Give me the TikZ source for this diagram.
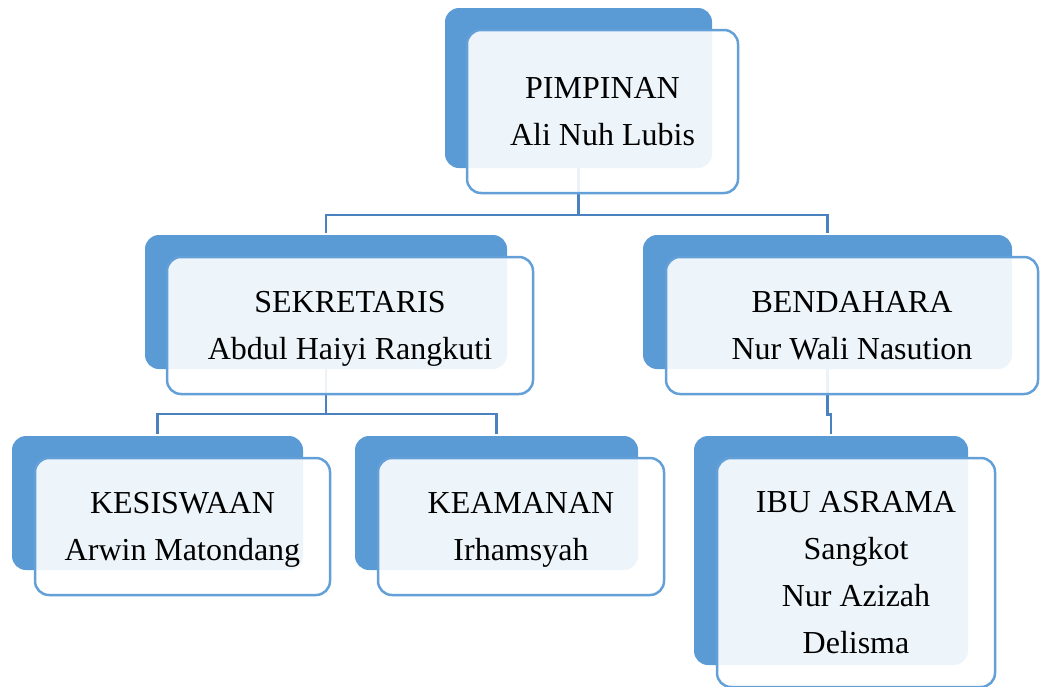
\documentclass[tikz,border=0pt]{standalone}
\usepackage{fontspec}
\setmainfont{Liberation Serif}
\definecolor{boxblue}{HTML}{5B9BD5}
\definecolor{edgeblue}{HTML}{64A0D8}
\definecolor{connblue}{HTML}{4A82C0}
\newcommand{\tstrut}{\rule{0pt}{28.5pt}}
\newcommand{\bstrut}{\rule[-7pt]{0pt}{7pt}}
\begin{document}
\begin{tikzpicture}[x=1pt,y=-1pt,
  backbox/.style={fill=boxblue, draw=none, rounded corners=14pt, inner sep=0pt},
  frontbox/.style={fill=white, fill opacity=0.9, text opacity=1, draw=edgeblue, draw opacity=1,
    line width=2.5pt, rounded corners=14pt, inner sep=0pt, align=center,
    font=\fontsize{32}{47}\selectfont},
  conn/.style={draw=connblue, line width=2.8pt, shorten >=2pt}]
\useasboundingbox (0,0) rectangle (1041,686);
% back boxes
\node[backbox, minimum width=267pt, minimum height=160pt] (pb) at (578.5,88) {};
\node[backbox, minimum width=362pt, minimum height=134pt] (sb) at (326,302) {};
\node[backbox, minimum width=369pt, minimum height=134pt] (bb) at (827.5,302) {};
\node[backbox, minimum width=291pt, minimum height=134pt] (kb) at (157.5,503) {};
\node[backbox, minimum width=283pt, minimum height=134pt] (mb) at (496.5,503) {};
\node[backbox, minimum width=274pt, minimum height=229pt] (ib) at (831,550.5) {};
% connectors
\coordinate (pj) at (578.5,215);
\coordinate (sj) at (326,414);
\draw[conn, shorten >=0pt] (pb.south) -- (pj);
\draw[conn] (pj) -| (sb.north);
\draw[conn] (pj) -| (bb.north);
\draw[conn, shorten >=0pt] (sb.south) -- (sj);
\draw[conn] (sj) -| (kb.north);
\draw[conn] (sj) -| (mb.north);
\draw[conn] (bb.south) -- ++(0,45) -| (ib.north);
% front boxes
\node[frontbox, minimum width=271pt, minimum height=163pt] (pf) at (602.5,111.5) {\tstrut PIMPINAN\\Ali Nuh Lubis\bstrut};
\node[frontbox, minimum width=366pt, minimum height=137pt] (sf) at (350,325.5) {\tstrut SEKRETARIS\\Abdul Haiyi Rangkuti\bstrut};
\node[frontbox, minimum width=372pt, minimum height=137pt] (bf) at (852,325.5) {\tstrut BENDAHARA\\Nur Wali Nasution\bstrut};
\node[frontbox, minimum width=295pt, minimum height=137pt] (kf) at (182.5,526.5) {\tstrut KESISWAAN\\Arwin Matondang\bstrut};
\node[frontbox, minimum width=286pt, minimum height=137pt] (mf) at (521,526.5) {\tstrut KEAMANAN\\Irhamsyah\bstrut};
\node[frontbox, minimum width=278pt, minimum height=229pt] (if) at (856,572.5) {\tstrut IBU ASRAMA\\Sangkot\\Nur Azizah\\Delisma\bstrut};
\end{tikzpicture}
\end{document}
